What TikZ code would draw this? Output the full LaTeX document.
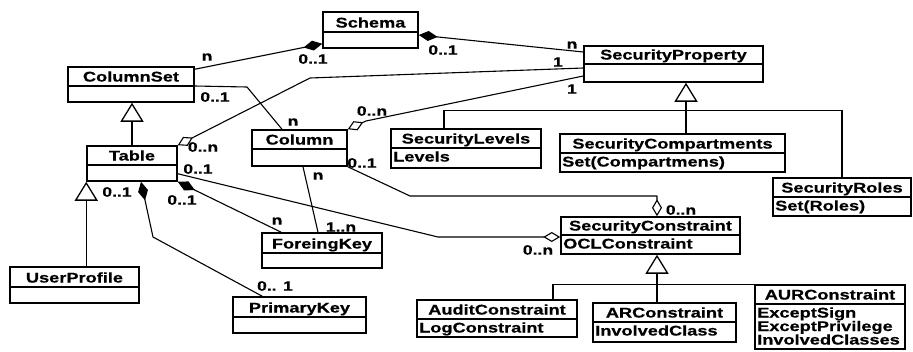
\documentclass[tikz,border=0pt]{standalone}
\usepackage{fontspec}
\newfontfamily\umlfont[FakeStretch=1.3, BoldFeatures={FakeBold=0.6}]{Liberation Sans}
\usetikzlibrary{arrows.meta,fit,calc}

\tikzset{
  classbox/.style={draw, line width=1.5pt, inner sep=0pt, fill=white},
  divider/.style={line width=1.2pt},
  classname/.style={font=\umlfont\bfseries\fontsize{14}{15}\selectfont, inner sep=0pt},
  attrtext/.style={font=\umlfont\bfseries\fontsize{14}{15}\selectfont, inner sep=0pt},
  mult/.style={font=\umlfont\bfseries\fontsize{13.5}{14}\selectfont, inner sep=0pt},
  assoc/.style={line width=1.1pt, line join=round},
  gen/.style={line width=1.3pt},
  inherit/.style={gen, -{Triangle[open, length=19pt, width=23pt, line width=1.3pt]}},
  compstart/.style={{Diamond[length=19pt, width=10pt]}-},
  compend/.style={-{Diamond[length=19pt, width=10pt]}},
  aggstart/.style={{Diamond[open, length=17pt, width=10pt, line width=1.1pt]}-},
  aggend/.style={-{Diamond[open, length=17pt, width=10pt, line width=1.1pt]}},
}

% class box: name, x1, y1, x2, y2, divider y, class name
\newcommand\umlbox[7]{%
  \coordinate (#1-nw) at (#2,#3);
  \coordinate (#1-se) at (#4,#5);
  \node[classbox, fit=(#1-nw)(#1-se)] (#1) {};
  \draw[divider] (#2,#6) -- (#4,#6);
  \node[classname, anchor=base] (#1-t) at ({(#2+#4)/2},{#6-4.5}) {#7};
}
% attribute lines: box name, x1, divider y, list of attributes
\newcommand\umlattrs[4]{%
  \foreach \attr [count=\k] in {#4} {
    \node[attrtext, anchor=base west] (#1-a\k) at ({#2+2},{#3+13.5+(\k-1)*13.5}) {\attr};
  }
}

\begin{document}
\begin{tikzpicture}[x=1pt,y=-1pt]
\useasboundingbox (0,0) rectangle (913,351);
\fill[white] (0,0) rectangle (913,351);

% ---- classes ----
\umlbox{schema}{323}{12}{418}{48}{32}{Schema}
\umlbox{columnset}{68}{67}{194}{102}{86}{ColumnSet}
\umlbox{table}{87}{146}{177}{181}{165}{Table}
\umlbox{column}{252}{130}{347}{166}{149}{Column}
\umlbox{secprop}{584}{46}{763}{82}{64}{SecurityProperty}
\umlbox{seclevels}{391}{129}{541}{168}{148}{SecurityLevels}
\umlattrs{seclevels}{391}{148}{Levels}
\umlbox{seccomp}{560}{134}{785}{172}{153}{SecurityCompartments}
\umlattrs{seccomp}{560}{153}{Set(Compartmens)}
\umlbox{secroles}{773}{178}{911}{216}{197}{SecurityRoles}
\umlattrs{secroles}{773}{197}{Set(Roles)}
\umlbox{seccons}{561}{217}{740}{254}{235}{SecurityConstraint}
\umlattrs{seccons}{561}{235}{OCLConstraint}
\umlbox{foreignkey}{262}{233}{382}{268}{253}{ForeingKey}
\umlbox{userprofile}{10}{267}{139}{303}{287}{UserProfile}
\umlbox{primarykey}{233}{297}{366}{333}{317}{PrimaryKey}
\umlbox{audit}{417}{300}{577}{337}{319}{AuditConstraint}
\umlattrs{audit}{417}{319}{LogConstraint}
\umlbox{arcons}{593}{303}{736}{342}{322}{ARConstraint}
\umlattrs{arcons}{593}{322}{InvolvedClass}
\umlbox{aurcons}{755}{285}{905}{349}{304}{AURConstraint}
\umlattrs{aurcons}{755}{304}{ExceptSign,ExceptPrivilege,InvolvedClasses}

% ---- generalizations ----
\draw[inherit] (table.north) -- (table.north |- columnset.south);
\draw[inherit] (table.south west |- userprofile.north) -- (table.south west);

\coordinate (spbase) at ([xshift=12.5pt]secprop.south);
\draw[inherit] (seccomp.north -| spbase) -- (spbase);
\draw[gen] ([xshift=-22pt]seclevels.north) -- ++(0,-18) -| (secroles.north);

\coordinate (scbase) at ([xshift=6.5pt]seccons.south);
\draw[inherit] (arcons.north -| scbase) -- (scbase);
\draw[gen] ([xshift=56pt]audit.north) |- (aurcons.north);

% ---- associations ----
\draw[assoc, compend] ([yshift=-3pt]columnset.north east) -- ([yshift=5pt]schema.south west);
\draw[assoc, compstart] ([yshift=-5pt]schema.east) -- ([yshift=12pt]secprop.west);
\draw[assoc] ([yshift=-1.5pt]columnset.east) -- (247,87) -- ([xshift=-17.5pt]column.north);
\draw[assoc, aggstart] (table.north east) -- (310,78) -- ([yshift=-4pt]secprop.west);
\draw[assoc, aggstart] (column.north east) -- (366,121) -- ([yshift=-12pt]secprop.west);
\draw[assoc, aggend] (column.south east) -- (410,196) -| ([xshift=6.5pt]seccons.north);
\draw[assoc, aggend] ([yshift=8pt]table.south east) -- (438,237) -- ([yshift=-1.5pt]seccons.west);
\draw[assoc, compstart] (table.south east) -- ([xshift=20pt]foreignkey.north west);
\draw[assoc] ([xshift=3.5pt]column.south) -- ([xshift=-4pt]foreignkey.north);
\draw[assoc, compstart] ([xshift=9pt]table.south) -- (153,237) -- ([xshift=30pt]primarykey.north west);

% ---- multiplicities ----
\node[mult] (l1) at (207,57) {n};
\node[mult] (l2) at (313,59) {0..1};
\node[mult] (l3) at (443,50) {0..1};
\node[mult] (l4) at (572,45) {n};
\node[mult] (l5) at (215,97) {0..1};
\node[mult] (l6) at (293,122) {n};
\node[mult] (l7) at (203,147) {0..n};
\node[mult] (l8) at (558,62) {1};
\node[mult] (l9) at (372,111) {0..n};
\node[mult] (l10) at (572,89) {1};
\node[mult] (l11) at (362,163) {0..1};
\node[mult] (l12) at (681,210) {0..n};
\node[mult] (l13) at (198,169) {0..1};
\node[mult] (l14) at (538,250) {0..n};
\node[mult] (l15) at (182,200) {0..1};
\node[mult] (l16) at (277,221) {n};
\node[mult] (l17) at (318,176) {n};
\node[mult] (l18) at (341,227) {1..n};
\node[mult] (l19) at (117,192) {0..1};
\node[mult] (l20) at (275,286) {0.. 1};
\end{tikzpicture}
\end{document}
